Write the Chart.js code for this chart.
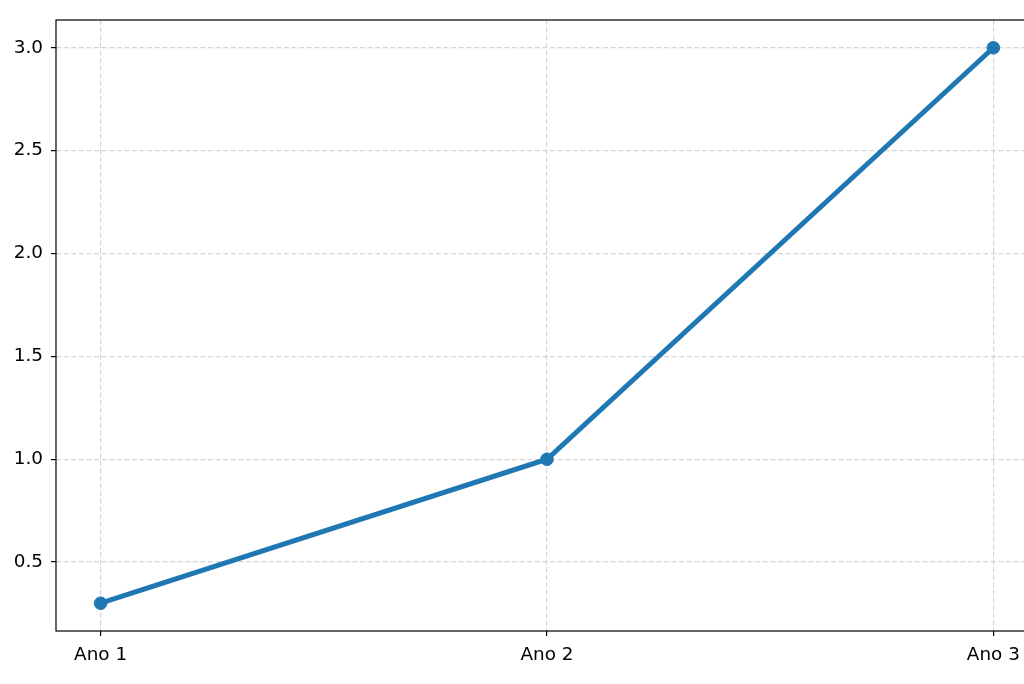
<!DOCTYPE html>
<html>
<head>
<meta charset="utf-8">
<script src="https://cdn.jsdelivr.net/npm/chart.js@4"></script>
<style>
  html, body { margin: 0; padding: 0; background: #fff; overflow: hidden; }
  #wrap { width: 1024px; height: 684px; overflow: hidden; }
</style>
</head>
<body>
<div id="wrap"><canvas id="grafico" width="1060" height="684"></canvas></div>
<script>
// datos
const anos = ["Ano 1", "Ano 2", "Ano 3"];
const valores = [0.3, 1.0, 3.0];
const ticksY = [0.5, 1.0, 1.5, 2.0, 2.5, 3.0];

const puntos = valores.map((v, i) => ({ x: i, y: v }));

// marco negro alrededor del area del grafico
const marco = {
  id: 'marco',
  afterDraw(chart) {
    const { ctx, chartArea } = chart;
    ctx.save();
    ctx.strokeStyle = '#000';
    ctx.lineWidth = 1.2;
    ctx.strokeRect(chartArea.left, chartArea.top, chartArea.right - chartArea.left, chartArea.bottom - chartArea.top);
    ctx.restore();
  }
};

const fuente = { family: 'DejaVu Sans', size: 18.4 };

const rejilla = {
  color: '#d4d4d4',
  lineWidth: 1.2,
  tickColor: '#000',
  tickLength: 5,
  tickWidth: 1.2,
  tickBorderDash: []
};

new Chart(document.getElementById('grafico'), {
  type: 'line',
  data: {
    datasets: [{
      data: puntos,
      borderColor: '#1f77b4',
      backgroundColor: '#1f77b4',
      borderWidth: 5,
      pointRadius: 6.3,
      pointHoverRadius: 6.3,
      pointBorderWidth: 1,
      tension: 0,
      fill: false
    }]
  },
  plugins: [marco],
  options: {
    responsive: false,
    animation: false,
    layout: { padding: { top: 20, right: 22, left: 0, bottom: 0 } },
    plugins: { legend: { display: false }, tooltip: { enabled: false } },
    scales: {
      x: {
        type: 'linear',
        min: -0.1,
        max: 2.1,
        afterBuildTicks: s => { s.ticks = anos.map((_, i) => ({ value: i })); },
        afterFit: s => { s.height = 53; },
        ticks: {
          callback: v => anos[v],
          color: '#000',
          font: fuente,
          padding: 8,
          maxRotation: 0,
          autoSkip: false
        },
        grid: rejilla,
        border: { display: false, dash: [5, 2.6] }
      },
      y: {
        min: 0.165,
        max: 3.135,
        afterBuildTicks: s => { s.ticks = ticksY.map(v => ({ value: v })); },
        afterFit: s => { s.width = 56; },
        ticks: {
          callback: v => v.toFixed(1),
          color: '#000',
          font: fuente,
          padding: 8
        },
        grid: rejilla,
        border: { display: false, dash: [5, 2.6] }
      }
    }
  }
});
</script>
</body>
</html>
